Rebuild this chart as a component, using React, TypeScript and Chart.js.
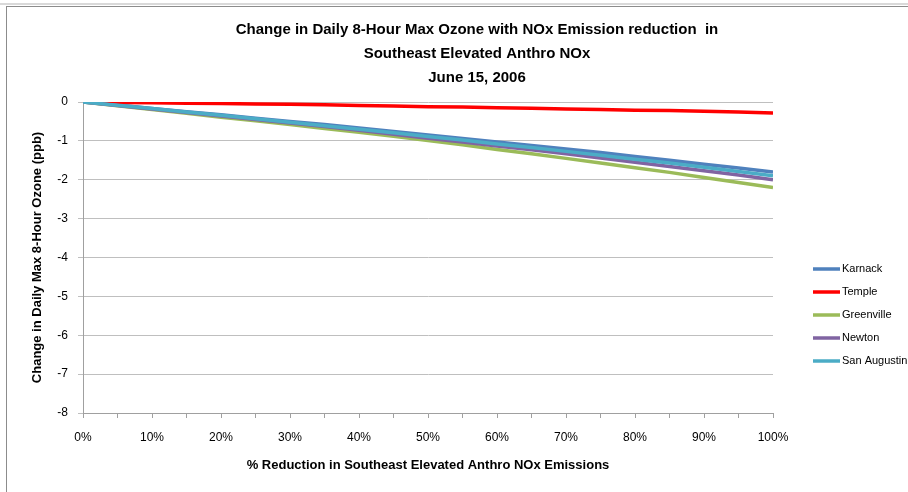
import React, { useEffect, useRef } from 'react';
import { Chart, registerables } from 'chart.js';

Chart.register(...registerables);

const reductionPct = [0, 5, 10, 15, 20, 25, 30, 35, 40, 45, 50, 55, 60, 65, 70, 75, 80, 85, 90, 95, 100];
const karnack = [0, -0.08, -0.17, -0.25, -0.33, -0.42, -0.5, -0.58, -0.67, -0.76, -0.85, -0.94, -1.03, -1.12, -1.21, -1.3, -1.4, -1.5, -1.6, -1.7, -1.8];
const temple = [0, -0.01, -0.02, -0.03, -0.04, -0.05, -0.06, -0.07, -0.09, -0.1, -0.12, -0.13, -0.15, -0.16, -0.18, -0.19, -0.21, -0.22, -0.24, -0.26, -0.28];
const greenville = [0, -0.095, -0.19, -0.29, -0.39, -0.48, -0.58, -0.68, -0.78, -0.88, -0.99, -1.1, -1.22, -1.33, -1.45, -1.57, -1.69, -1.81, -1.94, -2.07, -2.2];
const newton = [0, -0.09, -0.18, -0.27, -0.36, -0.45, -0.54, -0.63, -0.73, -0.83, -0.93, -1.03, -1.13, -1.23, -1.33, -1.44, -1.55, -1.66, -1.77, -1.88, -2.0];
const sanAugustin = [0, -0.085, -0.17, -0.26, -0.34, -0.43, -0.52, -0.61, -0.7, -0.79, -0.89, -0.98, -1.08, -1.17, -1.27, -1.37, -1.47, -1.57, -1.68, -1.79, -1.9];

const seriesNames = ['Karnack', 'Temple', 'Greenville', 'Newton', 'San Augustin'];
const seriesValues = [karnack, temple, greenville, newton, sanAugustin];
const seriesColors = ['#4F81BD', '#FF0000', '#9BBB59', '#8064A2', '#4BACC6'];

const titleLines = [
  'Change in Daily 8-Hour Max Ozone with NOx Emission reduction  in',
  'Southeast Elevated Anthro NOx',
  'June 15, 2006',
];
const yAxisTitle = 'Change in Daily Max 8-Hour Ozone (ppb)';
const xAxisTitle = '% Reduction in Southeast Elevated Anthro NOx Emissions';
const yMin = -8;
const yMax = 0;

const FONT = '"Liberation Sans", Arial, sans-serif';

const sideLegend = {
  id: 'sideLegend',
  afterDraw(chart: any) {
    const { ctx, chartArea } = chart;
    ctx.save();
    chart.data.datasets.forEach((ds: any, i: number) => {
      const y = chartArea.top + 167 + i * 23;
      ctx.strokeStyle = ds.borderColor;
      ctx.lineWidth = 3.5;
      ctx.beginPath();
      ctx.moveTo(chartArea.right + 40, y);
      ctx.lineTo(chartArea.right + 67, y);
      ctx.stroke();
      ctx.fillStyle = '#000';
      ctx.font = '11px ' + FONT;
      ctx.textBaseline = 'middle';
      ctx.textAlign = 'left';
      ctx.fillText(ds.label, chartArea.right + 69, y);
    });
    ctx.restore();
  },
};

export default function App() {
  const canvasRef = useRef<HTMLCanvasElement | null>(null);

  useEffect(() => {
    if (!canvasRef.current) return;
    Chart.defaults.font.family = FONT;
    const chart = new Chart(canvasRef.current, {
      type: 'line',
      data: {
        datasets: seriesNames.map((name, i) => ({
          label: name,
          data: reductionPct.map((x, j) => ({ x, y: seriesValues[i][j] })),
          borderColor: seriesColors[i],
          backgroundColor: seriesColors[i],
          borderWidth: 3.5,
          pointRadius: 0,
          tension: 0,
          fill: false,
          order: seriesNames.length - 1 - i,
          xAxisID: 'x',
          yAxisID: 'y',
        })),
      },
      options: {
        animation: false,
        responsive: false,
        devicePixelRatio: 1,
        layout: { padding: 0 },
        plugins: {
          legend: { display: false },
          tooltip: { enabled: false },
          title: {
            display: true,
            text: titleLines,
            color: '#000',
            font: { size: 15, weight: 'bold', lineHeight: 24 / 15 },
            padding: { top: 18, bottom: 12 },
          },
        },
        scales: {
          x: {
            type: 'linear',
            min: 0,
            max: 100,
            ticks: {
              stepSize: 5,
              autoSkip: false,
              maxRotation: 0,
              minRotation: 0,
              color: '#000',
              font: { size: 12 },
              padding: 12,
              callback: (v: any) => (Number(v) % 10 === 0 ? v + '%' : ''),
            },
            grid: { drawOnChartArea: false, color: '#A0A0A0', tickLength: 5 },
            border: { color: '#A0A0A0' },
            title: {
              display: true,
              text: xAxisTitle,
              color: '#000',
              font: { size: 13, weight: 'bold' },
              padding: { top: 0, bottom: 19 },
            },
            afterFit: (s: any) => {
              s.height = 79;
            },
          },
          y: {
            type: 'linear',
            min: yMin,
            max: yMax,
            ticks: { stepSize: 1, color: '#000', font: { size: 12 }, padding: 10 },
            grid: { color: '#BFBFBF', tickLength: 5 },
            border: { color: '#A0A0A0' },
            title: {
              display: true,
              text: yAxisTitle,
              color: '#000',
              font: { size: 13, weight: 'bold' },
              padding: { top: 30, bottom: 0 },
            },
            afterFit: (s: any) => {
              s.width = 83;
            },
          },
          yR: {
            type: 'linear',
            position: 'right',
            display: true,
            grid: { display: false, drawTicks: false },
            border: { display: false },
            ticks: { display: false },
            afterFit: (s: any) => {
              s.width = 181;
            },
          },
        },
      } as any,
      plugins: [sideLegend],
    });
    return () => chart.destroy();
  }, []);

  return (
    <div style={{ position: 'fixed', left: 0, top: 0, width: 908, height: 492, overflow: 'hidden', background: '#fff' }}>
      <canvas ref={canvasRef} width={954} height={492} style={{ position: 'absolute', left: 0, top: 0, width: 954, height: 492 }} />
      <div style={{ position: 'absolute', left: 0, top: 3, width: 908, height: 2, background: '#D9D9D9' }} />
      <div style={{ position: 'absolute', left: 6, top: 6, width: 902, height: 1, background: '#8C8C8C' }} />
      <div style={{ position: 'absolute', left: 6, top: 6, width: 1, height: 486, background: '#8C8C8C' }} />
    </div>
  );
}
